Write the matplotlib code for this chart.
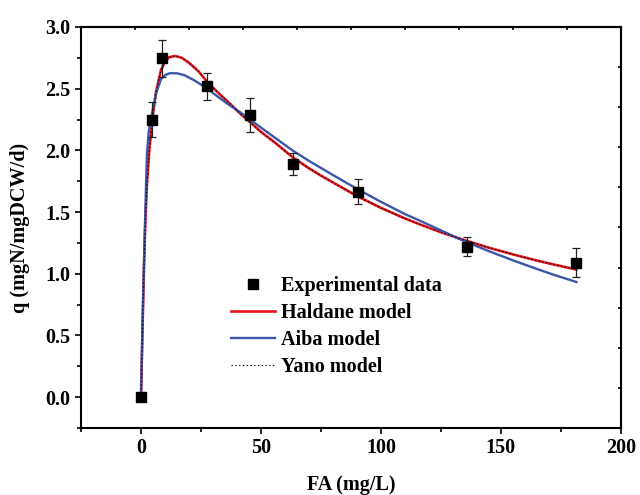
import numpy as np
import matplotlib
matplotlib.use("Agg")
import matplotlib.pyplot as plt
from matplotlib.ticker import MultipleLocator

plt.rcParams['font.family'] = ['Liberation Serif', 'DejaVu Serif']
plt.rcParams['font.weight'] = 'bold'

# experimental data
fa = [0, 4.5, 8.7, 27.4, 45.4, 63.5, 90.5, 136, 181.5]
q = [0, 2.25, 2.745, 2.52, 2.285, 1.89, 1.665, 1.22, 1.09]
q_err = [0, 0.14, 0.15, 0.11, 0.14, 0.09, 0.10, 0.08, 0.12]

# model curves
hal_x = [0, 0.35, 0.7, 1.05, 1.4, 1.8, 2.5, 3.5, 4.9, 6.25, 8.3, 10, 11.8, 14.2, 17, 20,
         24, 27.4, 32, 37, 41.25, 45.4, 50, 56, 63.5, 70, 74.6, 80, 90.5, 100, 110,
         116.25, 124.6, 135, 145, 155, 165, 172, 181.5]
hal_y = [0, 0.31, 0.62, 0.90, 1.16, 1.42, 1.73, 2.01, 2.28, 2.47, 2.65, 2.72, 2.755, 2.765,
         2.75, 2.71, 2.64, 2.56, 2.47, 2.38, 2.30, 2.23, 2.15, 2.06, 1.94, 1.855, 1.80,
         1.74, 1.625, 1.534, 1.448, 1.40, 1.339, 1.271, 1.211, 1.157, 1.107, 1.075, 1.034]

aiba_x = [0, 0.35, 0.7, 1.05, 1.4, 1.8, 2.1, 2.5, 3.2, 4.6, 6.25, 8.3, 10, 12, 14.9, 18,
          22, 27.4, 32, 37, 41.25, 45.4, 50, 56, 63.5, 70, 80, 90.5, 100, 110, 116.25,
          124.6, 135, 145, 155, 165, 172, 181.5]
aiba_y = [0, 0.32, 0.64, 0.94, 1.22, 1.49, 1.73, 1.97, 2.15, 2.30, 2.46, 2.575, 2.61, 2.625,
          2.625, 2.61, 2.57, 2.505, 2.435, 2.365, 2.31, 2.25, 2.185, 2.10, 1.995, 1.915,
          1.80, 1.683, 1.583, 1.484, 1.43, 1.355, 1.262, 1.183, 1.109, 1.039, 0.992, 0.933]

yano_x = hal_x
yano_y = hal_y

fig = plt.figure(figsize=(6.4, 4.95), dpi=100)
ax = fig.add_axes([0.1266, 0.1354, 0.8434, 0.8101])

l1, = ax.plot(hal_x, hal_y, color='#e8141c', lw=1.9, label='Haldane model')
l2, = ax.plot(aiba_x, aiba_y, color='#3d55a8', lw=1.7, label='Aiba model')
l3, = ax.plot(yano_x, yano_y, color='black', lw=0.8, ls=(0, (1.2, 2.2)), label='Yano model')
ax.errorbar(fa, q, yerr=q_err, fmt='none', ecolor='#222222', elinewidth=0.9,
            capsize=3, capthick=0.9, zorder=4)
l0, = ax.plot(fa, q, 's', color='black', ms=6.5, ls='none', zorder=5,
              label='Experimental data')

ax.set_xlim(-25, 200)
ax.set_ylim(-0.25, 3.0)
ax.xaxis.set_major_locator(MultipleLocator(50))
ax.xaxis.set_minor_locator(MultipleLocator(25))
ax.yaxis.set_major_locator(MultipleLocator(0.5))
ax.yaxis.set_minor_locator(MultipleLocator(0.25))
ax.yaxis.set_major_formatter(plt.FormatStrFormatter('%.1f'))
ax.tick_params(which='major', direction='out', length=4, width=1.2, labelsize=14.5)
ax.tick_params(which='minor', direction='out', length=3, width=1.2)
for s in ax.spines.values():
    s.set_linewidth(1.5)

# top and right axes with ten even divisions
top = ax.secondary_xaxis('top')
top.set_xticks(np.linspace(-25, 200, 11))
top.tick_params(direction='in', length=2, width=1.2, labeltop=False)
right = ax.secondary_yaxis('right')
right.set_yticks(np.linspace(-0.25, 3.0, 11))
right.tick_params(direction='in', length=2, width=1.2, labelright=False)
top.spines['top'].set_linewidth(1.5)
right.spines['right'].set_linewidth(1.5)

ax.set_xlabel('FA (mg/L)', fontsize=14.5, fontweight='bold', labelpad=12)
ax.set_ylabel('q (mgN/mgDCW/d)', fontsize=14.5, fontweight='bold', labelpad=11)

ax.legend(handles=[l0, l1, l2, l3], loc='upper left', bbox_to_anchor=(0.278, 0.378),
          frameon=False, fontsize=14.5, borderpad=0, borderaxespad=0,
          labelspacing=0.34, handlelength=2.2, handletextpad=0.3)

fig.savefig('out.png', dpi=100)
